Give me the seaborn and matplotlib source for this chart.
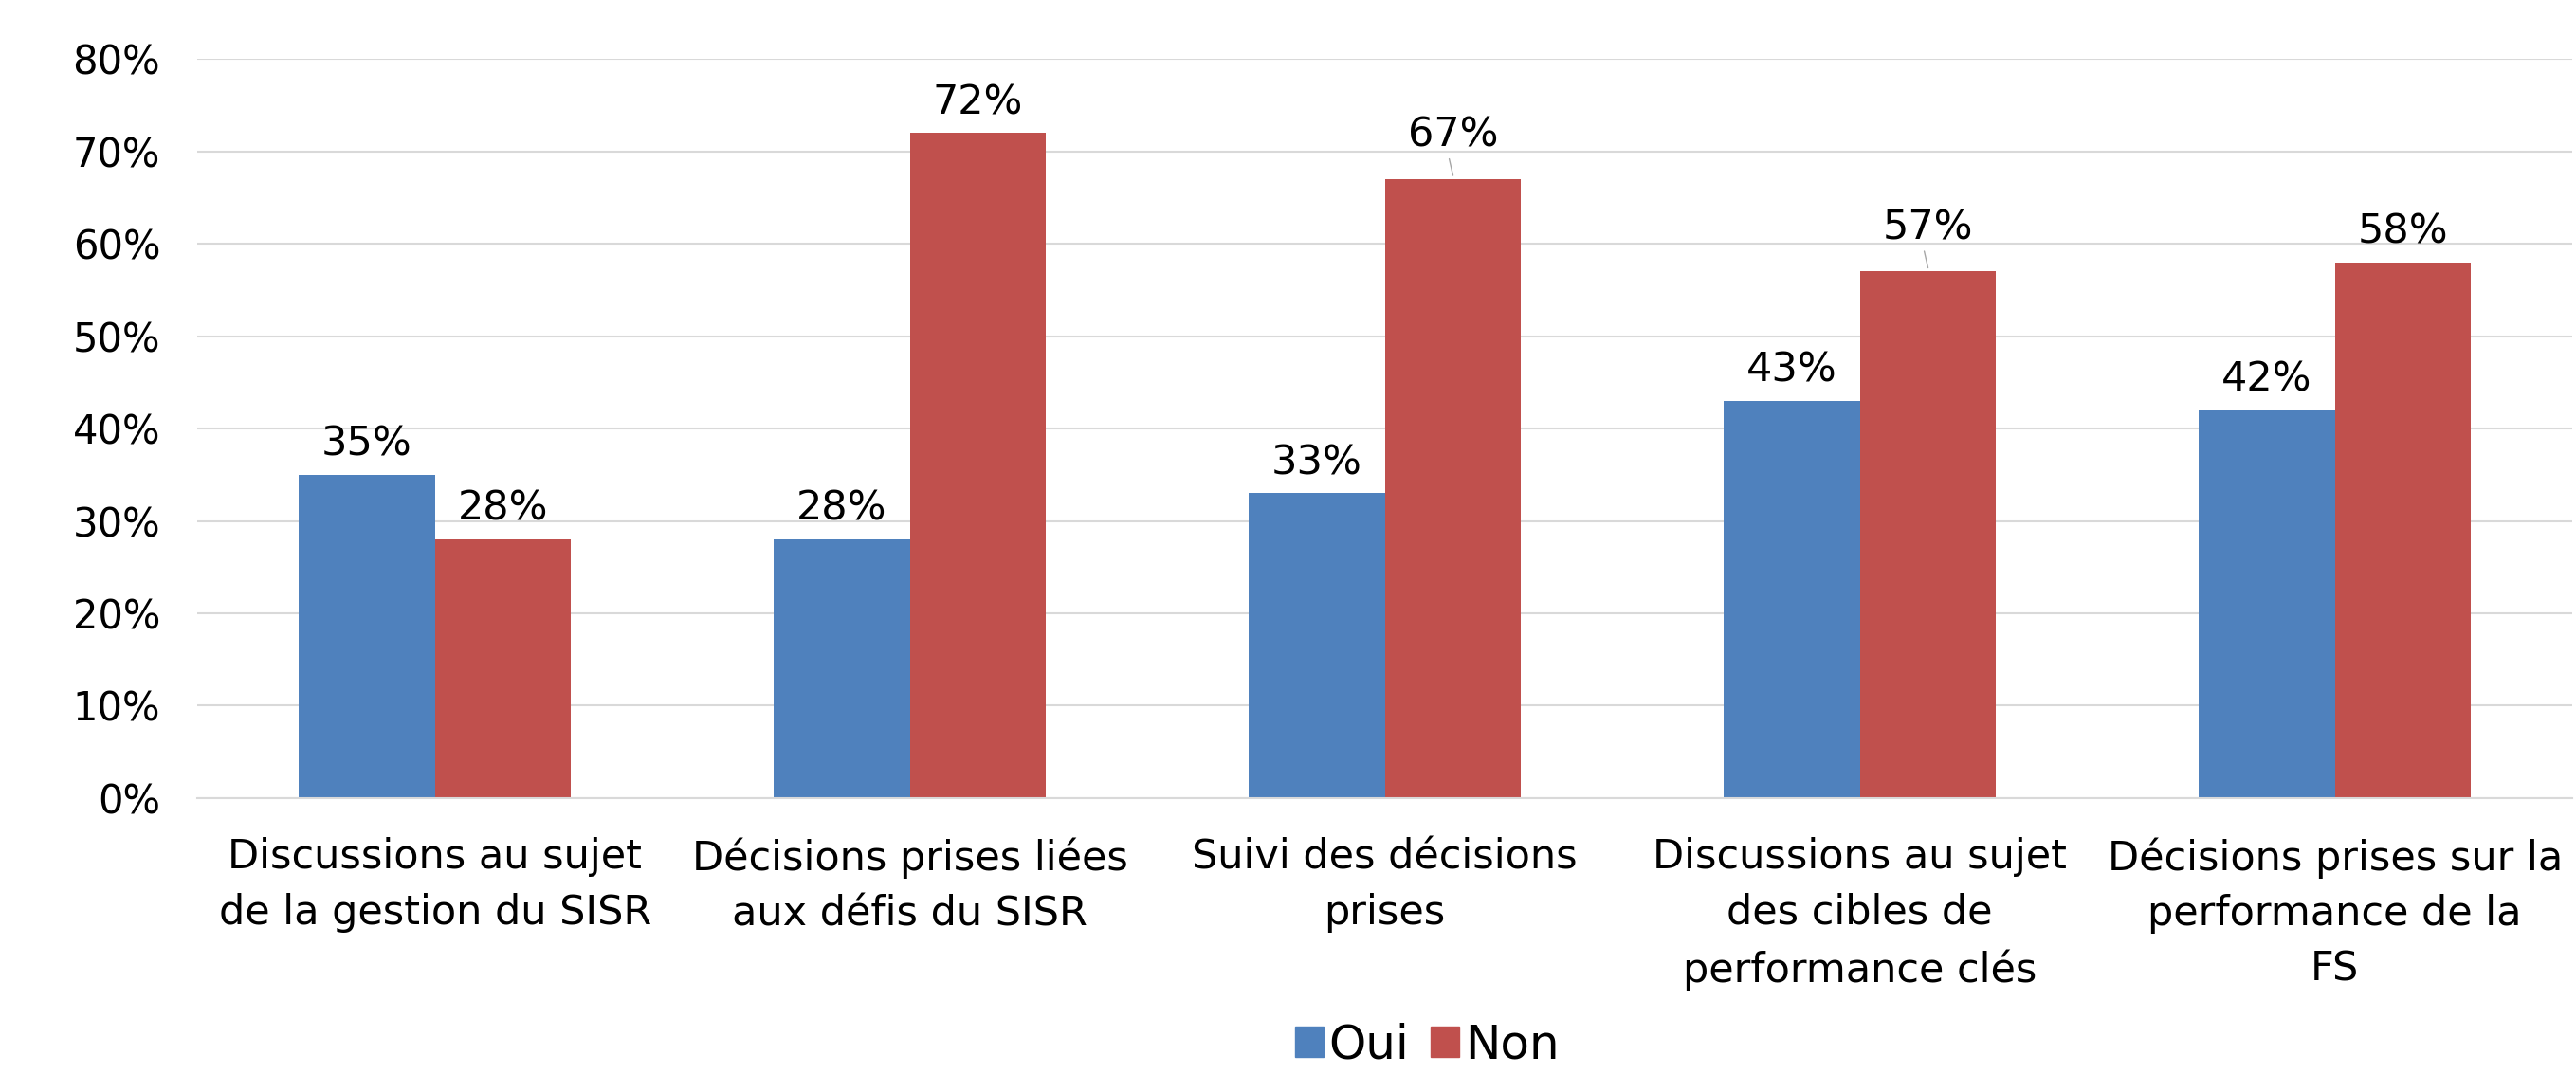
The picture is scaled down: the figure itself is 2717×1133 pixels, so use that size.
import numpy as np
import pandas as pd
import matplotlib
matplotlib.use('Agg')
import matplotlib.pyplot as plt
import seaborn as sb

categories = ['Discussions au sujet\nde la gestion du SISR',
              'Décisions prises liées\naux défis du SISR',
              'Suivi des décisions\nprises',
              'Discussions au sujet\ndes cibles de\nperformance clés',
              'Décisions prises sur la\nperformance de la\nFS']
oui = [35, 28, 33, 43, 42]
non = [28, 72, 67, 57, 58]
series = ['Oui', 'Non']
colors = ['#4F81BD', '#C0504D']
yticks = [0, 10, 20, 30, 40, 50, 60, 70, 80]

df = pd.DataFrame({
    'categorie': categories * 2,
    'reponse': ['Oui'] * len(categories) + ['Non'] * len(categories),
    'valeur': oui + non,
})

sb.set_style('white')
plt.rcParams['font.family'] = ['DejaVu Sans']
plt.rcParams['text.color'] = 'black'
plt.rcParams['xtick.color'] = 'black'
plt.rcParams['ytick.color'] = 'black'

fig = plt.figure(figsize=(27.17, 11.33), dpi=100)
ax = fig.add_axes([0.0766, 0.257, 0.922, 0.688])

sb.barplot(data=df, x='categorie', y='valeur', hue='reponse', hue_order=series,
           palette=colors, width=0.574, saturation=1, ax=ax, legend=False,
           edgecolor='none')

ax.set_ylim(0, 80)
ax.set_xlim(-0.5, len(categories) - 0.5)
ax.set_yticks(yticks)
ax.set_yticklabels([f'{t}%' for t in yticks], fontsize=30)
ax.yaxis.grid(True, color='#D9D9D9', linewidth=1.5)
ax.set_axisbelow(True)
for s in ['top', 'right', 'left']:
    ax.spines[s].set_visible(False)
ax.spines['bottom'].set_color('#D9D9D9')
ax.spines['bottom'].set_linewidth(1.5)
ax.tick_params(axis='both', length=0)
ax.tick_params(axis='x', pad=30, labelsize=31)
ax.tick_params(axis='y', pad=28)
for lab in ax.get_xticklabels():
    lab.set_linespacing(1.5)
ax.set_xlabel('')
ax.set_ylabel('')

# data labels (two of them were pushed up a bit with a leader line)
lifted = {('Non', 2), ('Non', 3)}
for cont, name in zip(ax.containers, series):
    for i, bar in enumerate(cont):
        h = bar.get_height()
        xc = bar.get_x() + bar.get_width() / 2
        off = 8
        if (name, i) in lifted:
            off = 18
            ax.plot([xc, xc - 0.008], [h + 0.4, h + 2.2], color='#A6A6A6', lw=1)
        ax.annotate(f'{h:.0f}%', (xc, h), xytext=(0, off), textcoords='offset points',
                    ha='center', va='bottom', fontsize=31)

handles = [plt.Rectangle((0, 0), 1, 1, color=c) for c in colors]
fig.legend(handles, series, loc='center', bbox_to_anchor=(0.554, 0.027), ncol=2,
           frameon=False, fontsize=36, handlelength=0.6, handleheight=0.6,
           handletextpad=0.12, columnspacing=0.45)

fig.savefig('out.png', dpi=100)
